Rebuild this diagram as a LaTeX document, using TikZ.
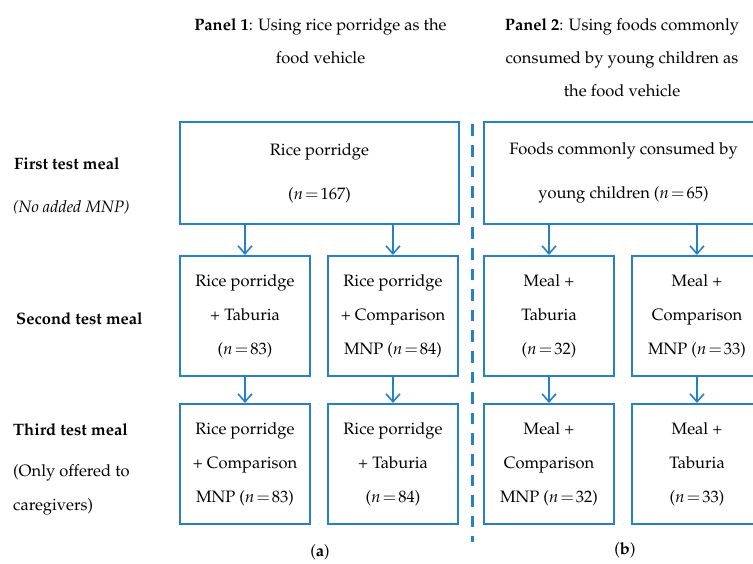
\documentclass[tikz,border=0pt]{standalone}
\usepackage[T1]{fontenc}
\usepackage{mathpazo}
\usetikzlibrary{arrows.meta}
\definecolor{bl}{RGB}{38,128,198}
\newcommand{\nn}[1]{$n\mkern2mu{=}\mkern2mu#1$}
\begin{document}
\begin{tikzpicture}[x=1pt,y=-1pt,
  txt/.style={font=\fontsize{16.5}{33}\selectfont, align=center, inner sep=0},
  lbl/.style={font=\fontsize{16.5}{34}\selectfont, align=left, inner sep=0, anchor=west},
  box/.style={draw=bl, line width=2pt, minimum height=120pt, minimum width=130pt, inner sep=0,
              align=center, font=\fontsize{16.5}{34}\selectfont},
  wbox/.style={box, minimum width=279pt, minimum height=102pt, font=\fontsize{16.5}{44}\selectfont},
  arr/.style={draw=bl, line width=1.8pt, -{Straight Barb[length=8pt,width=14pt,line width=1.6pt]}},
  sep/.style={draw=bl, line width=3pt, dash pattern=on 11.7pt off 8.9pt}
]
\useasboundingbox (0,0) rectangle (753,563);
% headers
\node[txt] (h1) at (320.5,41.5) {\textbf{Panel 1}: Using rice porridge as the\\ food vehicle};
\node[txt] (h2) at (622,58) {\textbf{Panel 2}: Using foods commonly\\ consumed by young children as\\ the food vehicle};
% row labels
\node[lbl] (l1) at (14,164) {\textbf{First test meal}};
\node[lbl] (l1b) at (13,207) {\textit{(No added MNP)}};
\node[lbl] (l2) at (16,319) {\textbf{Second test meal}};
\node[lbl] (l3) at (13,430) {\textbf{Third test meal}};
\node[lbl] (l3b) at (13,490) {(Only offered to\\ caregivers)};
% top boxes
\node[wbox] (t1) at (319.5,173) {Rice porridge\\ (\nn{167})};
\node[wbox] (t2) at (623.5,173) {Foods commonly consumed by\\ young children (\nn{65})};
% second row
\node[box] (a1) at (245,316) {Rice porridge\\ + Taburia\\ (\nn{83})};
\node[box] (a2) at (393,316) {Rice porridge\\ + Comparison\\ MNP (\nn{84})};
\node[box] (b1) at (549,316) {Meal +\\ Taburia\\ (\nn{32})};
\node[box] (b2) at (697,316) {Meal +\\ Comparison\\ MNP (\nn{33})};
% third row
\node[box] (a3) at (245,464) {Rice porridge\\ + Comparison\\ MNP (\nn{83})};
\node[box] (a4) at (393,464) {Rice porridge\\ + Taburia\\ (\nn{84})};
\node[box] (b3) at (549,464) {Meal +\\ Comparison\\ MNP (\nn{32})};
\node[box] (b4) at (697,464) {Meal +\\ Taburia\\ (\nn{33})};
% arrows
\draw[arr] (a1.north |- t1.south) -- (a1.north);
\draw[arr] (a2.north |- t1.south) -- (a2.north);
\draw[arr] (b1.north |- t2.south) -- (b1.north);
\draw[arr] (b2.north |- t2.south) -- (b2.north);
\draw[arr] (a1) -- (a3);
\draw[arr] (a2) -- (a4);
\draw[arr] (b1) -- (b3);
\draw[arr] (b2) -- (b4);
% separator
\coordinate (s1) at (472,124.3);
\coordinate (s2) at (472,542);
\draw[sep] (s1) -- (s2);
% captions
\node[txt] (ca) at (320,552) {(\textbf{a})};
\node[txt] (cb) at (625,550) {(\textbf{b})};
\end{tikzpicture}
\end{document}
